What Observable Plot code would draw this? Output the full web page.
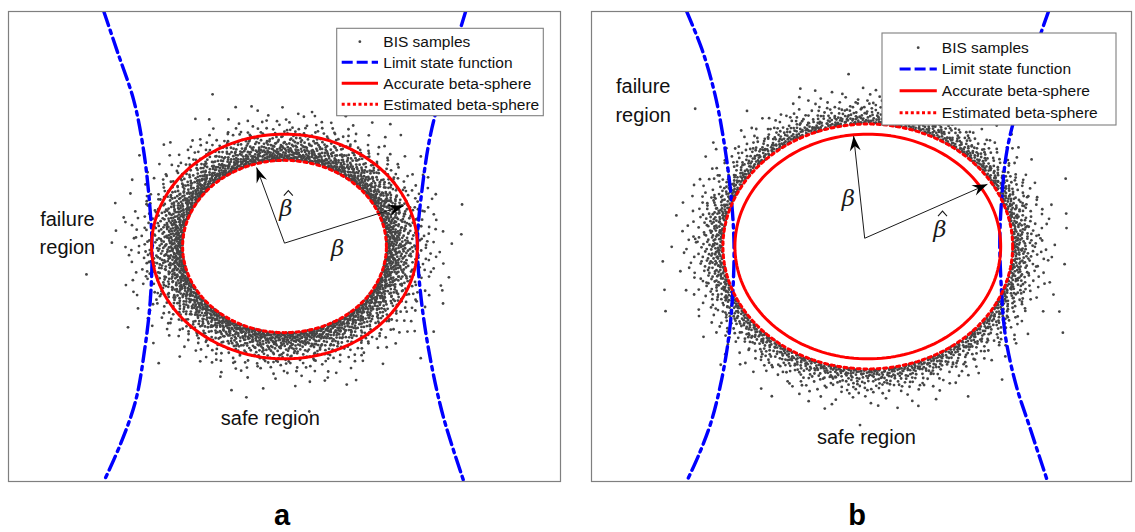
<!DOCTYPE html>
<html>
<head>
<meta charset="utf-8">
<script src="https://cdn.jsdelivr.net/npm/d3@7"></script>
<script src="https://cdn.jsdelivr.net/npm/@observablehq/plot@0.6"></script>
<style>
  html, body { margin: 0; padding: 0; background: #fff; }
  #fig { position: relative; width: 1135px; height: 532px; overflow: hidden; }
  .panel { position: absolute; top: 9.7px; }
  #overlay { position: absolute; left: 0; top: 0; pointer-events: none; }
</style>
</head>
<body>
<div id="fig"></div>
<script>
// ---------------------------------------------------------------
// Data (standard normal space, origin at the centre of each panel)
// ---------------------------------------------------------------
const panelNames = ["a", "b"];

// reliability index of the accurate and of the estimated beta-sphere
const betaAccurate = [3.0, 3.0];
const betaEstimated = [2.30, 3.27];

// number of BIS samples shown in each panel
const sampleCount = [3200, 2200];

// limit state function, panel a (two branches)
const lsfLeftA = [[-4.08, 6.28], [-3.78, 5.23], [-3.40, 3.89], [-3.18, 2.56], [-3.05, 1.22],
  [-2.99, 0.02], [-3.03, -1.45], [-3.16, -2.78], [-3.36, -4.12], [-3.70, -5.27], [-4.08, -6.28]];
const lsfRightA = [[4.09, 6.28], [3.60, 4.35], [3.30, 3.01], [3.11, 1.57], [3.00, 0.07],
  [3.09, -1.45], [3.30, -3.05], [3.59, -4.57], [4.05, -6.28]];

// limit state function, panel b (two branches)
const lsfLeftB = [[-4.09, 6.28], [-3.73, 5.22], [-3.45, 4.06], [-3.25, 2.82], [-3.09, 1.39],
  [-3.02, 0.07], [-3.05, -1.28], [-3.13, -2.34], [-3.29, -3.50], [-3.53, -4.66], [-3.81, -5.55], [-4.09, -6.28]];
const lsfRightB = [[4.08, 6.28], [3.90, 5.67], [3.42, 3.89], [3.14, 2.55], [3.02, 1.22],
  [2.98, 0.15], [3.01, -1.00], [3.10, -2.34], [3.34, -3.67], [3.66, -4.84], [4.06, -6.28]];

// radius arrows: start, tip, and the symbol written beside each (hat = estimated index)
const arrowsA = [
  {x1: 0, y1: 0.09, x2: -0.63, y2: 2.11, label: "β", hat: true, lx: 0.03, ly: 1.00},
  {x1: 0, y1: 0.09, x2: 2.69, y2: 1.09, label: "β", hat: false, lx: 1.20, ly: -0.05}
];
const arrowsB = [
  {x1: -0.07, y1: 0.22, x2: -0.32, y2: 2.95, label: "β", hat: false, lx: -0.44, ly: 1.28},
  {x1: -0.07, y1: 0.22, x2: 2.70, y2: 1.66, label: "β", hat: true, lx: 1.63, ly: 0.45}
];

// region annotations
const regionsA = [
  {x: -4.90, y: 0.42, text: "failure\nregion"},
  {x: -0.32, y: -4.52, text: "safe region"}
];
const regionsB = [
  {x: -5.07, y: 3.95, text: "failure\nregion"},
  {x: -0.03, y: -5.02, text: "safe region"}
];

const legendLabels = ["BIS samples", "Limit state function", "Accurate beta-sphere", "Estimated beta-sphere"];

// ---------------------------------------------------------------
// Helpers
// ---------------------------------------------------------------
const FONT = "'Liberation Sans', Arial, Helvetica, sans-serif";
const SERIF = "'DejaVu Serif', 'Liberation Serif', serif";
const BLUE = "#0000ff", RED = "#ff0000", GREY = "#454545";
const LSF_DASH = "15 5 3.5 5";

// radical-inverse (Halton) sequence: deterministic low-discrepancy layout
function radicalInverse(i, base) {
  let f = 1, r = 0;
  while (i > 0) { f /= base; r += f * (i % base); i = Math.floor(i / base); }
  return r;
}

// BIS samples: standard normal points lying outside the estimated beta-sphere
function bisSamples(rHat, n, offset) {
  const out = [];
  for (let i = 1; i <= n; i++) {
    const u = radicalInverse(i + offset, 2);
    const v = radicalInverse(i + offset, 3);
    const r = Math.sqrt(rHat * rHat - 2 * Math.log(1 - u));
    const t = 2 * Math.PI * v;
    out.push({x: r * Math.cos(t), y: r * Math.sin(t)});
  }
  return out;
}

// a circle of radius beta about the origin
function sphere(beta) {
  return d3.range(0, 361, 2).map(a => {
    const t = a * Math.PI / 180;
    return {x: beta * Math.cos(t), y: beta * Math.sin(t)};
  });
}

// filled, notched arrowhead with its tip at the anchor point, pointing along +x
const arrowHead = {
  draw(ctx) {
    ctx.moveTo(0, 0);
    ctx.lineTo(-15, -5.5);
    ctx.lineTo(-10, 0);
    ctx.lineTo(-15, 5.5);
    ctx.closePath();
  }
};

// circumflex accent drawn over the estimated index symbol
const hatAccent = {
  draw(ctx) {
    ctx.moveTo(-4.5, 2.5);
    ctx.lineTo(0, -2.5);
    ctx.lineTo(4.5, 2.5);
  }
};

function panel({left, width, xDomain, yDomain, k, lsf, arrows, regions}) {
  const height = 470;
  const kx = width / (xDomain[1] - xDomain[0]);
  const ky = height / (yDomain[1] - yDomain[0]);
  const angle = d => Math.atan2(-(d.y2 - d.y1) * ky, (d.x2 - d.x1) * kx) * 180 / Math.PI;
  const xy = {x: d => d[0], y: d => d[1]};

  const svg = Plot.plot({
    width: width + 2,
    height: height + 2,
    margin: 1,
    x: {domain: xDomain, axis: null},
    y: {domain: yDomain, axis: null},
    style: {background: "transparent", overflow: "visible"},
    marks: [
      Plot.dot(bisSamples(betaEstimated[k], sampleCount[k], k * 7919 + 17),
        {x: "x", y: "y", r: 1.4, fill: GREY, clip: true}),
      ...lsf.map(branch => Plot.line(branch, {
        ...xy, stroke: BLUE, strokeWidth: 3.4, strokeDasharray: LSF_DASH,
        curve: "catmull-rom", clip: true
      })),
      Plot.line(sphere(betaAccurate[k]), {x: "x", y: "y", stroke: RED, strokeWidth: 3}),
      Plot.line(sphere(betaEstimated[k]), {x: "x", y: "y", stroke: RED, strokeWidth: 3,
        strokeDasharray: "3 3.6"}),
      Plot.link(arrows, {x1: "x1", y1: "y1", x2: "x2", y2: "y2", stroke: "#1a1a1a", strokeWidth: 1}),
      Plot.dot(arrows, {x: "x2", y: "y2", symbol: arrowHead, r: 5, fill: "#000", rotate: angle}),
      Plot.text(arrows, {x: "lx", y: "ly", text: "label", fontSize: 23, fontStyle: "italic",
        fontFamily: SERIF, fill: "#1a1a1a"}),
      Plot.dot(arrows.filter(d => d.hat), {x: "lx", y: "ly", symbol: hatAccent, r: 4, dx: 2.5, dy: -16,
        fill: "none", stroke: "#1a1a1a", strokeWidth: 1.1}),
      Plot.text(regions, {x: "x", y: "y", text: "text", fontSize: 20, lineHeight: 1.42,
        fontFamily: FONT, fill: "#111"}),
      Plot.frame({stroke: "#7f7f7f", strokeWidth: 1.2})
    ]
  });
  svg.classList.add("panel");
  svg.style.left = (left - 1) + "px";
  return svg;
}

const fig = document.getElementById("fig");

fig.appendChild(panel({
  left: 8, width: 552, xDomain: [-6.23, 6.23], yDomain: [-6.275, 6.275], k: 0,
  lsf: [lsfLeftA, lsfRightA], arrows: arrowsA, regions: regionsA
}));
fig.appendChild(panel({
  left: 591, width: 540, xDomain: [-6.237, 5.953], yDomain: [-6.275, 6.275], k: 1,
  lsf: [lsfLeftB, lsfRightB], arrows: arrowsB, regions: regionsB
}));

// ---------------------------------------------------------------
// Legends and panel tags
// ---------------------------------------------------------------
const overlay = d3.create("svg")
  .attr("id", "overlay")
  .attr("width", 1135).attr("height", 532);

function legend(box, rows, symX, textX) {
  const g = overlay.append("g");
  g.append("rect").attr("x", box[0]).attr("y", box[1]).attr("width", box[2]).attr("height", box[3])
    .attr("fill", "#fff").attr("stroke", "#7f7f7f").attr("stroke-width", 1.1);
  const mid = (symX[0] + symX[1]) / 2;
  g.append("circle").attr("cx", mid).attr("cy", rows[0]).attr("r", 1.4).attr("fill", GREY);
  const styles = [
    {stroke: BLUE, dash: "11 4"},
    {stroke: RED, dash: null},
    {stroke: RED, dash: "3 2.6"}
  ];
  styles.forEach((s, i) => {
    g.append("line").attr("x1", symX[0]).attr("x2", symX[1])
      .attr("y1", rows[i + 1]).attr("y2", rows[i + 1])
      .attr("stroke", s.stroke).attr("stroke-width", 3)
      .attr("stroke-dasharray", s.dash);
  });
  legendLabels.forEach((t, i) => {
    g.append("text").attr("x", textX).attr("y", rows[i]).attr("dy", "0.35em")
      .attr("font-family", FONT).attr("font-size", 15.5).attr("fill", "#111").text(t);
  });
}

legend([336.7, 28.3, 206.6, 87.4], [41.7, 62.3, 83.3, 104.3], [341.7, 378], 383.3);
legend([882, 33, 234, 92], [47.7, 69, 90.7, 112.7], [899.6, 936.8], 941.8);

[[282, "a"], [857, "b"]].forEach(([x, t]) => {
  overlay.append("text").attr("x", x).attr("y", 525).attr("text-anchor", "middle")
    .attr("font-family", FONT).attr("font-weight", "bold").attr("font-size", 29)
    .attr("fill", "#000").text(t);
});

fig.appendChild(overlay.node());
</script>
</body>
</html>
